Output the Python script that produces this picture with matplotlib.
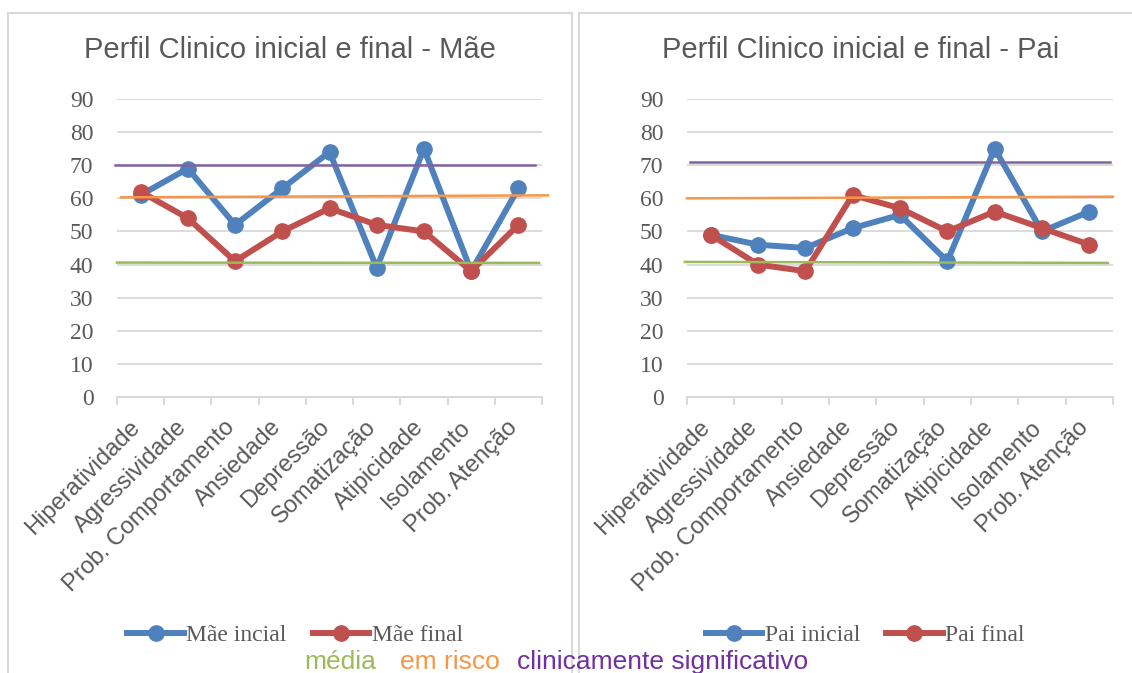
import matplotlib
matplotlib.use("Agg")
import matplotlib.pyplot as plt
from matplotlib.patches import Rectangle
import matplotlib.transforms as mtransforms

categories = ["Hiperatividade", "Agressividade", "Prob. Comportamento", "Ansiedade",
              "Depressão", "Somatização", "Atipicidade", "Isolamento", "Prob. Atenção"]
mae_inicial = [61, 69, 52, 63, 74, 39, 75, 38, 63]
mae_final = [62, 54, 41, 50, 57, 52, 50, 38, 52]
pai_inicial = [49, 46, 45, 51, 55, 41, 75, 50, 56]
pai_final = [49, 40, 38, 61, 57, 50, 56, 51, 46]
yticks = [0, 10, 20, 30, 40, 50, 60, 70, 80, 90]

# reference lines (start value, end value) per panel
mae_media = [40.6, 40.5]
mae_risco = [60.3, 60.9]
mae_clinico = [70.2, 70.2]
pai_media = [40.8, 40.5]
pai_risco = [60.0, 60.5]
pai_clinico = [71.0, 71.0]

BLUE = "#4F81BD"
RED = "#C0504D"
GREEN = "#9BBB59"
ORANGE = "#F79646"
PURPLE = "#8064A2"
PURPLE_TXT = "#7030A0"
GRID = "#D9D9D9"
TXT = "#595959"

W, H = 1132, 673
fig = plt.figure(figsize=(W / 100, H / 100), dpi=100)

def px_rect(x0, x1, ytop, ybot):
    return [x0 / W, (H - ybot) / H, (x1 - x0) / W, (ybot - ytop) / H]

# panel borders
for (x0, x1) in [(8, 572), (579, 1140)]:
    fig.patches.append(Rectangle((x0 / W, -0.05), (x1 - x0) / W, (H - 13) / H + 0.05,
                                 transform=fig.transFigure, fill=False,
                                 edgecolor=GRID, linewidth=1.5))

def panel(rect, title, title_x, s1, s2, labels, refs, ref_x):
    ax = fig.add_axes(rect)
    x = list(range(len(categories)))
    for yv in yticks[1:]:
        ax.axhline(yv, color=GRID, lw=1.3, zorder=0)
    ax.set_ylim(0, 90)
    ax.set_xlim(-0.5, len(categories) - 0.5)
    ax.plot(x, s1, color=BLUE, lw=4.3, marker="o", ms=11, label=labels[0], zorder=3)
    ax.plot(x, s2, color=RED, lw=4.3, marker="o", ms=11, label=labels[1], zorder=4)
    tr = mtransforms.blended_transform_factory(ax.transAxes, ax.transData)
    for vals, col, xs in zip(refs, [GREEN, ORANGE, PURPLE], ref_x):
        ax.plot(xs, vals, color=col, lw=1.8, transform=tr, clip_on=False, zorder=5)
    for sp in ["top", "right", "left"]:
        ax.spines[sp].set_visible(False)
    ax.spines["bottom"].set_color(GRID)
    ax.spines["bottom"].set_linewidth(1.5)
    ax.set_yticks(yticks)
    ax.set_yticklabels([str(v) for v in yticks], fontfamily="Liberation Serif",
                       fontsize=17, color=TXT)
    ax.tick_params(axis="y", length=0, pad=17)
    ax.set_xticks(x)
    ax.set_xticklabels(categories, rotation=45, ha="right", va="center",
                       rotation_mode="anchor", fontfamily="Liberation Sans",
                       fontsize=17, color=TXT)
    ax.tick_params(axis="x", length=0, pad=19.5)
    off = mtransforms.ScaledTranslation(-4 / 100, 0, fig.dpi_scale_trans)
    for lab in ax.get_xticklabels():
        lab.set_transform(lab.get_transform() + off)
    ax.set_xticks([i - 0.5 for i in range(len(categories) + 1)], minor=True)
    ax.tick_params(axis="x", which="minor", length=6, width=1.5, color=GRID)
    fig.text(title_x / W, (H - 50) / H, title, ha="center", va="center",
             fontfamily="Liberation Sans", fontsize=21, color=TXT)
    return ax

ax1 = panel(px_rect(117, 542, 99, 397), "Perfil Clinico inicial e final - Mãe", 290,
            mae_inicial, mae_final, ["Mãe incial", "Mãe final"],
            [mae_media, mae_risco, mae_clinico],
            [[0.0, 0.993], [0.01, 1.014], [-0.005, 0.984]])
ax2 = panel(px_rect(687, 1113, 99, 397), "Perfil Clinico inicial e final - Pai", 861,
            pai_inicial, pai_final, ["Pai inicial", "Pai final"],
            [pai_media, pai_risco, pai_clinico],
            [[-0.005, 0.988], [0.0, 1.0], [0.007, 0.993]])

for ax, cx in [(ax1, 295), (ax2, 865)]:
    h, l = ax.get_legend_handles_labels()
    fig.legend(h, l, loc="center", bbox_to_anchor=(cx / W, (H - 635) / H), ncol=2,
               frameon=False, prop={"family": "Liberation Serif", "size": 17},
               labelcolor=TXT, handlelength=2.4, handletextpad=0.1, columnspacing=1.1,
               markerscale=1.0)

for txt, col, xp in [("média", GREEN, 304), ("em risco", ORANGE, 400),
                     ("clinicamente significativo", PURPLE_TXT, 517)]:
    fig.text(xp / W, (H - 662) / H, txt, color=col, ha="left", va="center",
             fontfamily="Liberation Sans", fontsize=19)

fig.savefig("out.png", dpi=100)
